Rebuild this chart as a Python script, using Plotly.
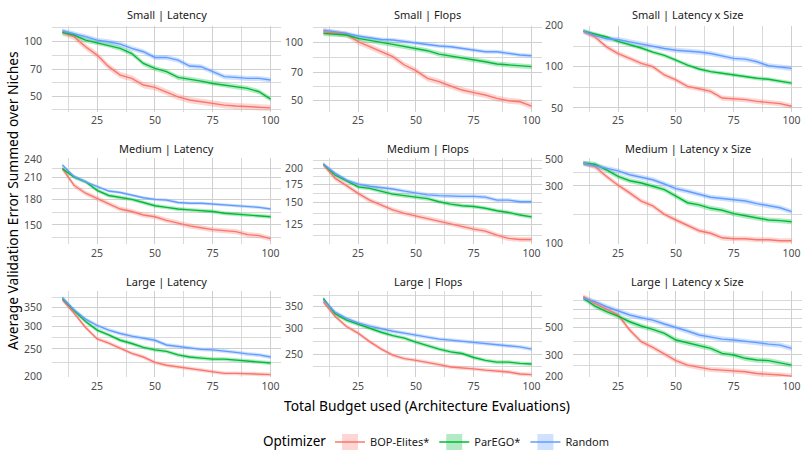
import numpy as np
import plotly.graph_objects as go

# ---------------- data ----------------
budget = [10, 15, 20, 25, 30, 35, 40, 45, 50, 55, 60, 65, 70, 75, 80, 85, 90, 95, 100]
sizes = ["Small", "Medium", "Large"]
objectives = ["Latency", "Flops", "Latency x Size"]
optimizers = ["BOP-Elites*", "ParEGO*", "Random"]

small_latency_bop = [112.7, 106.6, 93.8, 84.3, 72.7, 65.3, 62.6, 57.5, 55.8, 52.8, 49.5, 47.5, 46.5, 45.5, 44.5, 44.0, 43.6, 43.6, 43.0]
small_latency_parego = [112.7, 108.9, 102, 98.7, 95.8, 91.8, 86, 75.8, 71.1, 68.2, 63.4, 62, 60.5, 58.7, 57.5, 56.3, 55.1, 52.8, 48.1]
small_latency_random = [114.6, 111, 106.6, 102, 100, 97, 91.8, 88, 81.8, 81.8, 79, 73.3, 72.7, 68.2, 64, 63.4, 62.6, 62.6, 61.3]

small_flops_bop = [114, 111.8, 110.4, 101.2, 95.3, 89.8, 84.6, 76.6, 71.6, 65.3, 62.8, 59.6, 56.8, 55.1, 53.5, 51.4, 50.0, 49.4, 46.9]
small_flops_parego = [111.8, 110.9, 109.6, 105.3, 103.2, 100.4, 98, 95.3, 93.5, 90.9, 87.3, 85.3, 83.9, 81.3, 79.7, 77.5, 76.6, 76.0, 75.1]
small_flops_random = [116.3, 114, 111.8, 108.3, 106.2, 104, 103.2, 101.2, 100, 98, 96.1, 95.3, 93.5, 91.6, 89.8, 89.8, 88, 86.3, 85.6]

small_latsize_bop = [181, 165, 139.6, 124.8, 114.9, 105.7, 100, 87, 80, 71.7, 69, 66, 59, 58.1, 57.4, 55.8, 54.9, 53.7, 51.4]
small_latsize_parego = [182, 174, 165, 153, 145, 137, 128, 121, 111.7, 102.8, 96.2, 92, 89.5, 87, 85.6, 82.3, 81, 78.8, 75.8]
small_latsize_random = [182, 169, 160, 158, 152, 146, 140, 136, 132, 130.5, 128, 125, 119.4, 115, 113.6, 108.7, 101.7, 100, 97.3]

medium_latency_bop = [224, 199, 188, 181, 174, 168, 165, 161, 159, 155, 152, 149, 147, 145, 144, 143, 140, 139, 136]
medium_latency_parego = [224, 211, 204, 192, 185, 182, 180, 176, 172, 170, 168, 167, 166, 165, 163, 162, 161, 160, 159]
medium_latency_random = [230, 212, 204, 197, 191, 189, 185, 182, 180, 179, 176, 175, 175, 174, 173, 172, 171, 170, 168]

medium_flops_bop = [206, 184, 173, 162, 153, 147, 141, 137, 134, 131, 128, 125, 122, 120, 118, 114, 111, 110, 110]
medium_flops_parego = [207, 189, 180, 171, 169, 165, 161, 159, 157, 155, 151, 148, 146, 145, 143, 140, 138, 135, 133]
medium_flops_random = [207, 192, 181, 175, 172, 170, 168, 165, 162, 160, 159, 158, 158, 158, 157, 153, 153, 151, 151]

medium_latsize_bop = [461, 433, 359, 304, 263, 225, 205, 175, 157, 141, 128, 122, 112, 110, 110, 108, 108, 106, 106]
medium_latsize_parego = [461, 452, 407, 359, 331, 317, 298, 280, 247, 218, 209, 196, 189, 177, 170, 163, 157, 155, 152]
medium_latsize_random = [461, 441, 420, 399, 371, 353, 337, 311, 285, 271, 255, 242, 236, 232, 225, 214, 205, 198, 184]

large_latency_bop = [371, 334, 297, 271, 262, 251, 241, 234, 224, 219, 216, 213, 211, 208, 205, 205, 204, 203, 203]
large_latency_parego = [376, 341, 312, 291, 280, 268, 261, 253, 248, 245, 238, 234, 232, 230, 230, 228, 226, 224, 223]
large_latency_random = [378, 343, 318, 302, 291, 283, 277, 272, 268, 258, 255, 251, 249, 248, 246, 243, 240, 238, 234]

large_flops_bop = [362, 327, 304, 290, 273, 259, 248, 242, 239, 236, 232, 228, 227, 225, 223, 222, 220, 217, 216]
large_flops_parego = [371, 333, 318, 309, 299, 292, 285, 280, 272, 265, 259, 254, 251, 244, 239, 236, 236, 234, 233]
large_flops_random = [367, 337, 322, 312, 305, 299, 294, 290, 286, 283, 278, 276, 274, 272, 269, 267, 265, 263, 259]

large_latsize_bop = [896, 789, 709, 633, 479, 385, 346, 305, 270, 248, 238, 229, 226, 222, 219, 212, 210, 206, 202]
large_latsize_parego = [868, 750, 675, 622, 559, 516, 484, 449, 397, 378, 361, 340, 309, 300, 282, 273, 270, 260, 248]
large_latsize_random = [868, 814, 740, 688, 634, 603, 577, 536, 503, 470, 436, 422, 404, 397, 385, 378, 368, 361, 340]

# relative half-width of the confidence ribbons (BOP, ParEGO, Random)
small_latency_se = [0.040, 0.032, 0.032]
small_flops_se = [0.036, 0.030, 0.024]
small_latsize_se = [0.043, 0.034, 0.043]
medium_latency_se = [0.018, 0.014, 0.011]
medium_flops_se = [0.021, 0.017, 0.017]
medium_latsize_se = [0.048, 0.048, 0.048]
large_latency_se = [0.016, 0.016, 0.016]
large_flops_se = [0.014, 0.014, 0.014]
large_latsize_se = [0.048, 0.048, 0.048]

# y tick labels per panel
small_latency_ticks = [50, 70, 100]
small_flops_ticks = [50, 70, 100]
small_latsize_ticks = [50, 100, 200]
medium_latency_ticks = [150, 180, 210, 240]
medium_flops_ticks = [125, 150, 175, 200]
medium_latsize_ticks = [100, 300, 500]
large_latency_ticks = [200, 250, 300, 350]
large_flops_ticks = [250, 300, 350]
large_latsize_ticks = [200, 300, 500, 700]
large_latsize_ticktext = ["200", "300", "500", ""]
x_ticks = [25, 50, 75, 100]

panels = [
    ("Small", "Latency", [small_latency_bop, small_latency_parego, small_latency_random], small_latency_se, small_latency_ticks, None, [1.6131, 2.0898]),
    ("Small", "Flops", [small_flops_bop, small_flops_parego, small_flops_random], small_flops_se, small_flops_ticks, None, [1.6430, 2.0893]),
    ("Small", "Latency x Size", [small_latsize_bop, small_latsize_parego, small_latsize_random], small_latsize_se, small_latsize_ticks, None, [1.6723, 2.3014]),
    ("Medium", "Latency", [medium_latency_bop, medium_latency_parego, medium_latency_random], medium_latency_se, medium_latency_ticks, None, [2.1170, 2.3833]),
    ("Medium", "Flops", [medium_flops_bop, medium_flops_parego, medium_flops_random], medium_flops_se, medium_flops_ticks, None, [2.0247, 2.3386]),
    ("Medium", "Latency x Size", [medium_latsize_bop, medium_latsize_parego, medium_latsize_random], medium_latsize_se, medium_latsize_ticks, None, [1.998, 2.7071]),
    ("Large", "Latency", [large_latency_bop, large_latency_parego, large_latency_random], large_latency_se, large_latency_ticks, None, [2.299, 2.6012]),
    ("Large", "Flops", [large_flops_bop, large_flops_parego, large_flops_random], large_flops_se, large_flops_ticks, None, [2.3271, 2.5926]),
    ("Large", "Latency x Size", [large_latsize_bop, large_latsize_parego, large_latsize_random], large_latsize_se, large_latsize_ticks, large_latsize_ticktext, [2.2982, 2.9974]),
]

# ---------------- style ----------------
W, H = 802, 451
FONT = "Noto Sans"
line_colors = ["#F8766D", "#00BA38", "#619CFF"]
fill_colors = ["rgba(248,118,109,0.3)", "rgba(0,186,56,0.3)", "rgba(97,156,255,0.3)"]
col_px = [(52, 281), (313, 542), (573, 802)]
row_px = [(25.5, 111.5), (158, 244), (291, 377)]
strip_px = [15, 148.3, 281]
GRID = "#cfcfcf"
GRID_MINOR = "#d9d9d9"
TICK_SIZE = 10.5
STRIP_SIZE = 11
TITLE_SIZE = 13.8


def log_minor(majors, lo, hi):
    lm = np.log10(majors)
    mids = [(a + b) / 2 for a, b in zip(lm[:-1], lm[1:])]
    mids = [lm[0] - (lm[1] - lm[0]) / 2] + mids + [lm[-1] + (lm[-1] - lm[-2]) / 2]
    return [10 ** m for m in mids if lo <= m <= hi]


fig = go.Figure()
layout = {}
annotations = []

for i, (size, obj, series, se, ticks, ticktext, yr) in enumerate(panels):
    r, c = divmod(i, 3)
    n = i + 1
    xa = "x" if n == 1 else f"x{n}"
    ya = "y" if n == 1 else f"y{n}"
    # ribbons first
    for k in range(3):
        vals = np.array(series[k], dtype=float)
        up = vals * (1 + se[k])
        lo = vals * (1 - se[k])
        fig.add_trace(go.Scatter(x=budget, y=up, mode="lines", line=dict(width=0, color=fill_colors[k]),
                                 xaxis=xa, yaxis=ya, showlegend=False, hoverinfo="skip"))
        fig.add_trace(go.Scatter(x=budget, y=lo, mode="lines", line=dict(width=0, color=fill_colors[k]),
                                 fill="tonexty", fillcolor=fill_colors[k],
                                 xaxis=xa, yaxis=ya, showlegend=False, hoverinfo="skip"))
    for k in range(3):
        fig.add_trace(go.Scatter(x=budget, y=series[k], mode="lines",
                                 line=dict(color=line_colors[k], width=1.4),
                                 xaxis=xa, yaxis=ya, showlegend=False, name=optimizers[k]))

    x0, x1 = col_px[c]
    y0, y1 = row_px[r]
    layout["xaxis" if n == 1 else f"xaxis{n}"] = dict(
        domain=[x0 / W, x1 / W], anchor=ya, range=[5.5, 104.5],
        tickmode="array", tickvals=x_ticks, ticks="", showline=False, zeroline=False,
        showgrid=True, gridcolor=GRID, gridwidth=1.3,
        minor=dict(tickmode="array", tickvals=[12.5, 37.5, 62.5, 87.5], showgrid=True,
                   gridcolor=GRID_MINOR, gridwidth=1.1, ticks=""),
        tickfont=dict(family=FONT, size=TICK_SIZE, color="#4d4d4d"), ticklabelstandoff=1,
    )
    layout["yaxis" if n == 1 else f"yaxis{n}"] = dict(
        domain=[1 - y1 / H, 1 - y0 / H], anchor=xa, type="log", range=yr,
        tickmode="array", tickvals=ticks,
        ticktext=ticktext if ticktext else [str(t) for t in ticks],
        ticks="", showline=False, zeroline=False,
        showgrid=True, gridcolor=GRID, gridwidth=1.3,
        minor=dict(tickmode="array", tickvals=log_minor(ticks, yr[0], yr[1]), showgrid=True,
                   gridcolor=GRID_MINOR, gridwidth=1.1, ticks=""),
        tickfont=dict(family=FONT, size=TICK_SIZE, color="#4d4d4d"), ticklabelstandoff=9,
    )
    annotations.append(dict(text=f"{size} | {obj}", xref="paper", yref="paper",
                            x=(x0 + x1) / 2 / W, y=1 - strip_px[r] / H, xanchor="center", yanchor="middle",
                            showarrow=False, font=dict(family=FONT, size=STRIP_SIZE, color="#1a1a1a")))

# legend-only entries
for k in range(3):
    fig.add_trace(go.Scatter(x=[None], y=[None], mode="lines+markers", name=optimizers[k],
                             line=dict(color=line_colors[k], width=1.4),
                             marker=dict(symbol="square", size=16, color=fill_colors[k], line=dict(width=0)),
                             showlegend=True))

annotations.append(dict(text="Total Budget used (Architecture Evaluations)", xref="paper", yref="paper",
                        x=427 / W, y=1 - 405 / H, xanchor="center", yanchor="middle", showarrow=False,
                        font=dict(family=FONT, size=TITLE_SIZE, color="black")))
annotations.append(dict(text="Average Validation Error Summed over Niches", xref="paper", yref="paper",
                        x=12 / W, y=1 - 201 / H, xanchor="center", yanchor="middle", showarrow=False,
                        textangle=-90, font=dict(family=FONT, size=TITLE_SIZE, color="black")))
annotations.append(dict(text="Optimizer", xref="paper", yref="paper",
                        x=328 / W, y=1 - 441 / H, xanchor="right", yanchor="middle", showarrow=False,
                        font=dict(family=FONT, size=13.5, color="black")))

fig.update_layout(
    width=W, height=H, margin=dict(l=0, r=0, t=0, b=0, autoexpand=False),
    paper_bgcolor="white", plot_bgcolor="white",
    annotations=annotations,
    legend=dict(orientation="h", traceorder="normal", x=330 / W, xanchor="left", y=1 - 442 / H, yanchor="middle",
                font=dict(family=FONT, size=11, color="#1a1a1a"), bgcolor="rgba(0,0,0,0)",
                itemwidth=30, tracegroupgap=0),
    **layout,
)

fig.write_html("out.html")
